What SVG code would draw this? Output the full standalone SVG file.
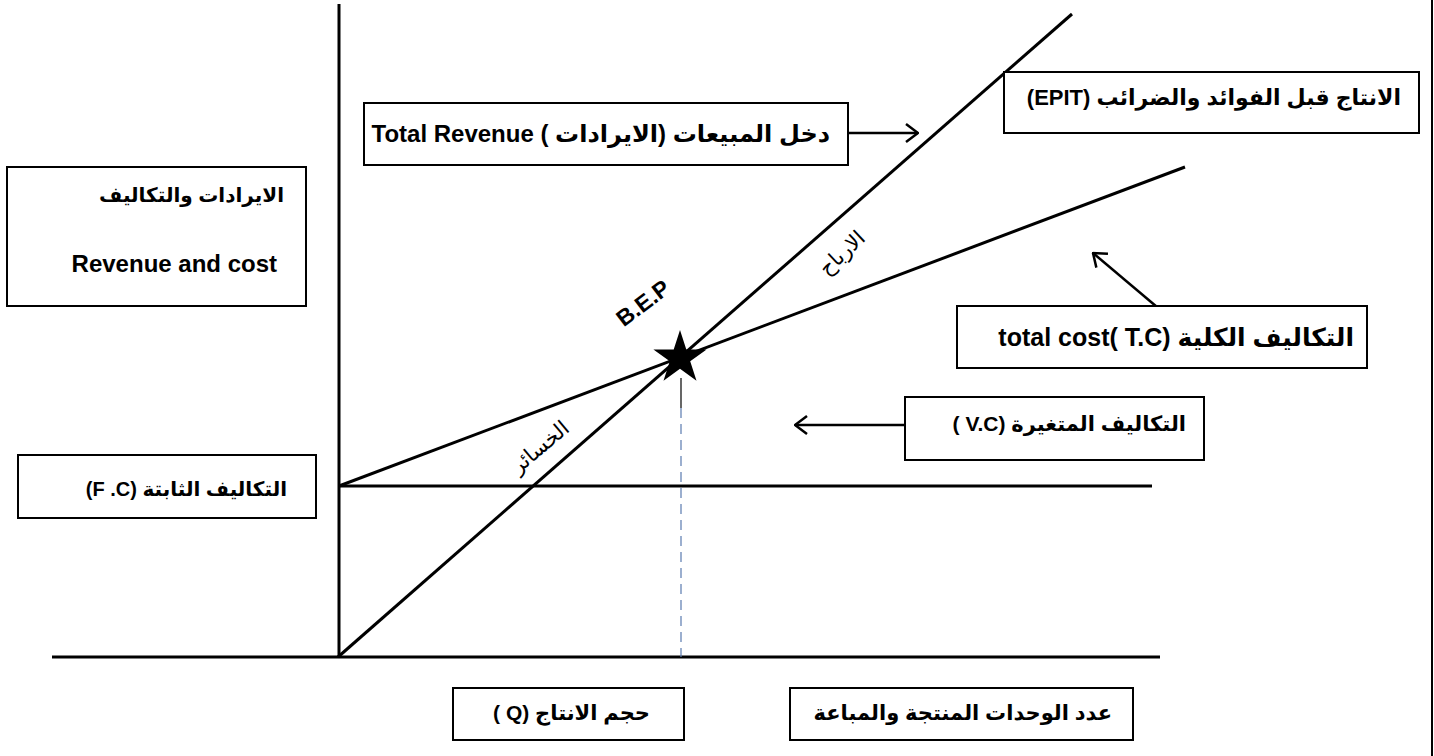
<svg xmlns="http://www.w3.org/2000/svg" width="1434" height="756" viewBox="0 0 1434 756">
<style>
.box{fill:#fff;stroke:#000;stroke-width:2}
.ax{stroke:#000;stroke-width:3;fill:none}
.ln{stroke:#000;stroke-width:3;fill:none}
.t{font-family:"Liberation Sans","DejaVu Sans",sans-serif;font-weight:bold;fill:#000}
.lat{font-family:"Liberation Sans",sans-serif;font-weight:bold;fill:#000}
.arr{stroke:#000;stroke-width:2.5;fill:none}
.rot{font-family:"DejaVu Sans",sans-serif;font-size:21px;fill:#000}
</style>
<defs>
<marker id="ah" viewBox="0 0 14 20" refX="13" refY="10" markerWidth="14" markerHeight="20" markerUnits="userSpaceOnUse" orient="auto">
<path d="M1,1 L13,10 L1,19" fill="none" stroke="#000" stroke-width="2.5"/>
</marker>
</defs>
<rect width="1434" height="756" fill="#fff"/>
<g id="connectors">
<line class="ax" x1="339" y1="4" x2="339" y2="658"/>
<line class="ax" x1="52" y1="657" x2="1160" y2="657"/>
<line x1="1432" y1="0" x2="1432" y2="756" stroke="#000" stroke-width="2"/>
<line class="ln" x1="339" y1="486" x2="1152" y2="486"/>
<line class="ln" x1="338" y1="657" x2="1072" y2="14"/>
<line class="ln" x1="339" y1="486" x2="1185" y2="167"/>
<line x1="681" y1="378" x2="681" y2="408" stroke="#000" stroke-width="1.2"/>
<line x1="681" y1="408" x2="681" y2="657" stroke="#5a7bb0" stroke-width="1.2" stroke-dasharray="10 6"/>
<line class="arr" x1="848" y1="133" x2="918" y2="133" marker-end="url(#ah)"/>
<line class="arr" x1="1157" y1="307" x2="1093" y2="253" marker-end="url(#ah)"/>
<line class="arr" x1="906" y1="425" x2="795" y2="425" marker-end="url(#ah)"/>
</g>
<g id="bep">
<polygon points="680,330 686.3,349.4 706.6,349.4 690.2,361.3 696.5,380.7 680,368.7 663.5,380.7 669.8,361.3 653.4,349.4 673.7,349.4" fill="#000"/>
<text class="lat" font-size="23" x="643" y="311" text-anchor="middle" transform="rotate(-37 643 303)">B.E.P</text>
</g>
<g id="profit"><text class="rot" x="842" y="260" text-anchor="middle" direction="rtl" transform="rotate(-43 842 253)">الارباح</text></g>
<g id="loss"><text class="rot" x="540" y="454" text-anchor="middle" direction="rtl" transform="rotate(-40 540 447)">الخسائر</text></g>
<g id="axis-y-label">
<rect class="box" x="7" y="167" width="299" height="139"/>
<text class="t" font-size="20" x="284" y="202" direction="rtl" text-anchor="start">الايرادات والتكاليف</text>
<text class="lat" font-size="24" x="277" y="272" text-anchor="end">Revenue and cost</text>
</g>
<g id="total-revenue">
<rect class="box" x="364" y="103" width="484" height="62"/>
<text class="t" font-size="24" x="830" y="142" direction="rtl" text-anchor="start">دخل المبيعات (الايرادات ) <tspan class="lat" font-size="24">Total Revenue</tspan></text>
</g>
<g id="epit">
<rect class="box" x="1004" y="72" width="415" height="61"/>
<text class="t" font-size="22" x="1401" y="105" direction="rtl" text-anchor="start">الانتاج قبل الفوائد والضرائب <tspan class="lat">(EPIT)</tspan></text>
</g>
<g id="total-cost">
<rect class="box" x="957" y="306" width="410" height="62"/>
<text class="t" font-size="25" x="1354" y="346" direction="rtl" text-anchor="start">التكاليف الكلية (T.C )total cost</text>
</g>
<g id="variable-cost">
<rect class="box" x="905" y="397" width="299" height="63"/>
<text class="t" font-size="21" x="1186" y="431" direction="rtl" text-anchor="start">التكاليف المتغيرة (V.C )</text>
</g>
<g id="fixed-cost">
<rect class="box" x="18" y="455" width="298" height="63"/>
<text class="t" font-size="20" x="287" y="496" direction="rtl" text-anchor="start">التكاليف الثابتة (F .C)</text>
</g>
<g id="quantity">
<rect class="box" x="453" y="688" width="231" height="52"/>
<text class="t" font-size="21" x="650" y="720" direction="rtl" text-anchor="start">حجم الانتاج  (Q )</text>
</g>
<g id="units">
<rect class="box" x="790" y="688" width="343" height="52"/>
<text class="t" font-size="21" x="1112" y="720" direction="rtl" text-anchor="start">عدد الوحدات المنتجة والمباعة</text>
</g>
</svg>
